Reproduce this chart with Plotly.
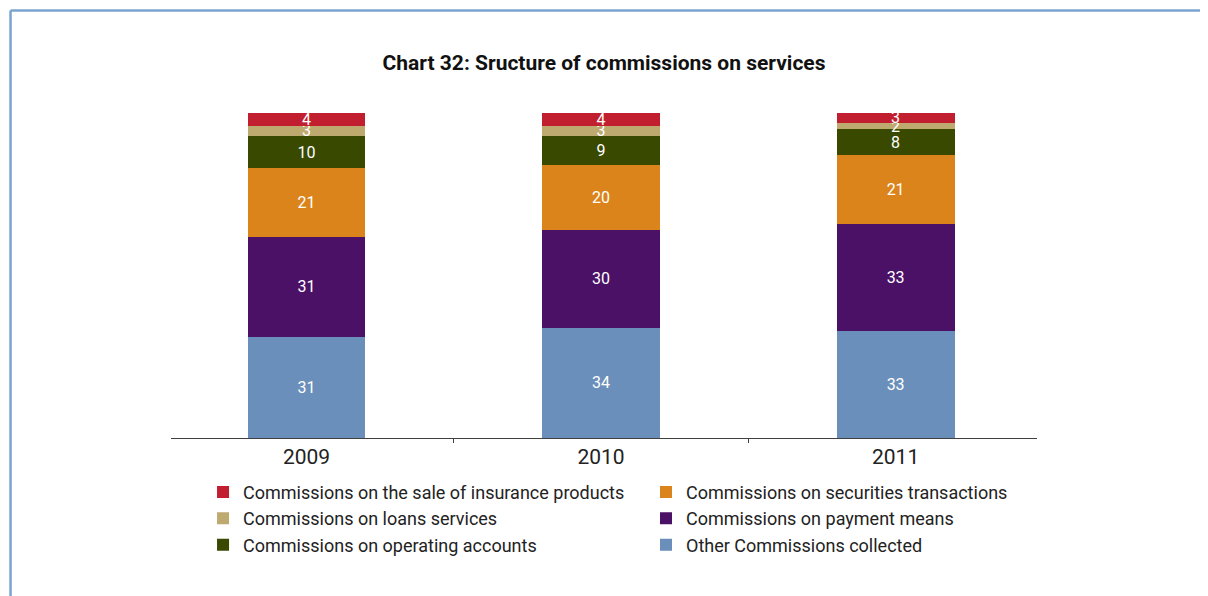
import plotly.graph_objects as go

years = ['2009', '2010', '2011']

# stacked from bottom to top
other = [31, 34, 33]
payment = [31, 30, 33]
securities = [21, 20, 21]
operating = [10, 9, 8]
loans = [3, 3, 2]
insurance = [4, 4, 3]

series = [
    ('Other Commissions collected', other, '#6A8FBA', 'legend2'),
    ('Commissions on payment means', payment, '#4A1167', 'legend2'),
    ('Commissions on securities transactions', securities, '#DB841B', 'legend2'),
    ('Commissions on operating accounts', operating, '#394900', 'legend'),
    ('Commissions on loans services', loans, '#BEA96F', 'legend'),
    ('Commissions on the sale of insurance products', insurance, '#C11F2F', 'legend'),
]

FONT = 'Roboto, Arial, sans-serif'

fig = go.Figure()
for name, vals, color, leg in series:
    fig.add_trace(go.Bar(
        name=name, x=years, y=vals,
        marker=dict(color=color, line=dict(width=0)),
        text=vals, textposition='inside', insidetextanchor='middle',
        textangle=0, textfont=dict(color='white', size=16, family=FONT),
        width=0.40, legend=leg,
    ))

# blue frame lines (left and top)
frame = '#7BA3D0'
fig.add_shape(type='line', xref='paper', yref='paper', x0=-0.1853, x1=1.3, y0=1.3154, y1=1.3154,
              line=dict(color=frame, width=2.5))
fig.add_shape(type='line', xref='paper', yref='paper', x0=-0.1853, x1=-0.1853, y0=-0.6, y1=1.3154,
              line=dict(color=frame, width=2.5))

fig.update_layout(
    width=1208, height=596,
    barmode='stack',
    plot_bgcolor='white', paper_bgcolor='white',
    margin=dict(l=163, r=179, t=105, b=166),
    font=dict(family=FONT, color='#222222'),
    title=dict(text='<b>Chart 32: Sructure of commissions on services</b>',
               x=(604 - 8) / 1208, xanchor='center', y=1 - 55 / 596, yanchor='middle', yref='container',
               font=dict(size=21, color='#111111', family=FONT)),
    uniformtext=dict(minsize=16, mode='show'),
    xaxis=dict(showline=True, linecolor='#404040', linewidth=1, ticks='outside',
               tickson='boundaries', ticklen=4, tickcolor='#404040', range=[-0.46, 2.48],
               tickfont=dict(size=21, color='#222222'), showgrid=False),
    yaxis=dict(range=[0, 100], visible=False, showgrid=False),
    legend=dict(x=0.037, y=-0.110, xanchor='left', yanchor='top', orientation='v',
                traceorder='reversed', font=dict(size=18, color='#222222'),
                itemwidth=30, bgcolor='rgba(0,0,0,0)'),
    legend2=dict(x=0.5485, y=-0.110, xanchor='left', yanchor='top', orientation='v',
                 traceorder='reversed', font=dict(size=18, color='#222222'),
                 itemwidth=30, bgcolor='rgba(0,0,0,0)'),
)

fig.write_html('out.html')
